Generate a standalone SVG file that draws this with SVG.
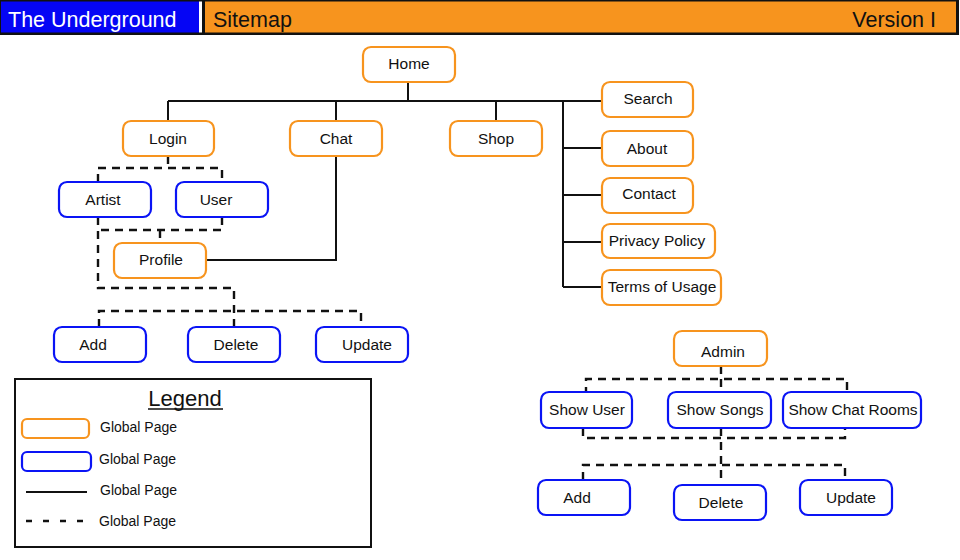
<svg xmlns="http://www.w3.org/2000/svg" width="960" height="560" viewBox="0 0 960 560">
<style>
text{font-family:"Liberation Sans",Arial,sans-serif;font-size:15.5px;fill:#111;text-anchor:middle}
.o{fill:#fff;stroke:#F7941E;stroke-width:2.2}
.b{fill:#fff;stroke:#0A14F5;stroke-width:2.2}
.s{fill:none;stroke:#111;stroke-width:2}
.d{fill:none;stroke:#111;stroke-width:2.4;stroke-dasharray:8 6}
.lg{font-size:14px;text-anchor:start}
</style>
<rect x="0" y="0" width="960" height="560" fill="#fff"/>
<g id="header">
<rect x="0" y="0" width="959" height="35" fill="#111"/>
<rect x="1" y="1.5" width="198" height="31" fill="#0505F5"/>
<rect x="199" y="1.5" width="3" height="31" fill="#fff"/>
<rect x="205" y="1.5" width="751" height="31" fill="#F7941E"/>
<text x="8" y="27" style="font-size:21.5px;text-anchor:start;fill:#fff">The Underground</text>
<text x="213" y="27" style="font-size:21.5px;text-anchor:start">Sitemap</text>
<text x="936" y="27" style="font-size:21.5px;text-anchor:end">Version I</text>
</g>
<g id="connectors">
<path class="s" d="M408 82V101M168 101H602M168 101V121M336 101V121M496 101V121M563 101V287M563 148H602M563 195H602M563 242H602M563 287H602"/>
<path class="s" d="M206 260H336V156"/>
<path class="d" d="M168 156V168M98 182V168H222V182"/>
<path class="d" d="M98 217V288H234V327M222 217V230H98M160 230V243"/>
<path class="d" d="M99 327V311H361V327"/>
<path class="d" d="M721 366V379M586 395V379H847V395M721 379V392"/>
<path class="d" d="M583 428V438H845V428M721 428V485M583 480V465H845V480"/>
</g>
<g id="home"><rect class="o" x="363" y="47" width="92" height="35" rx="8"/><text x="409" y="69">Home</text></g>
<g id="login"><rect class="o" x="123" y="121" width="91" height="35" rx="8"/><text x="168" y="144">Login</text></g>
<g id="chat"><rect class="o" x="290" y="121" width="92" height="35" rx="8"/><text x="336" y="144">Chat</text></g>
<g id="shop"><rect class="o" x="450" y="121" width="92" height="35" rx="8"/><text x="496" y="144">Shop</text></g>
<g id="search"><rect class="o" x="602" y="82" width="91" height="35" rx="8"/><text x="648" y="104">Search</text></g>
<g id="about"><rect class="o" x="602" y="131" width="91" height="35" rx="8"/><text x="647" y="154">About</text></g>
<g id="contact"><rect class="o" x="602" y="178" width="91" height="35" rx="8"/><text x="649" y="199">Contact</text></g>
<g id="privacy"><rect class="o" x="602" y="224" width="113" height="34" rx="8"/><text x="657" y="246">Privacy Policy</text></g>
<g id="terms"><rect class="o" x="602" y="270" width="119" height="35" rx="8"/><text x="662" y="292">Terms of Usage</text></g>
<g id="artist"><rect class="b" x="59" y="182" width="92" height="35" rx="8"/><text x="103" y="205">Artist</text></g>
<g id="user"><rect class="b" x="176" y="182" width="92" height="35" rx="8"/><text x="216" y="205">User</text></g>
<g id="profile"><rect class="o" x="114" y="243" width="92" height="35" rx="8"/><text x="161" y="265">Profile</text></g>
<g id="add1"><rect class="b" x="54" y="327" width="92" height="35" rx="8"/><text x="93" y="350">Add</text></g>
<g id="delete1"><rect class="b" x="188" y="327" width="92" height="35" rx="8"/><text x="236" y="350">Delete</text></g>
<g id="update1"><rect class="b" x="316" y="327" width="92" height="35" rx="8"/><text x="367" y="350">Update</text></g>
<g id="admin"><rect class="o" x="674" y="331" width="93" height="35" rx="8"/><text x="723" y="357">Admin</text></g>
<g id="showuser"><rect class="b" x="541" y="392" width="91" height="36" rx="8"/><text x="587" y="415">Show User</text></g>
<g id="showsongs"><rect class="b" x="668" y="392" width="103" height="36" rx="8"/><text x="720" y="415">Show Songs</text></g>
<g id="showchat"><rect class="b" x="783" y="392" width="138" height="36" rx="8"/><text x="853" y="415">Show Chat Rooms</text></g>
<g id="add2"><rect class="b" x="538" y="480" width="92" height="35" rx="8"/><text x="577" y="503">Add</text></g>
<g id="delete2"><rect class="b" x="674" y="485" width="92" height="35" rx="8"/><text x="721" y="508">Delete</text></g>
<g id="update2"><rect class="b" x="800" y="480" width="92" height="35" rx="8"/><text x="851" y="503">Update</text></g>
<g id="legend">
<rect x="15" y="379" width="356" height="168" fill="#fff" stroke="#111" stroke-width="2"/>
<text x="185" y="406" style="font-size:22px">Legend</text>
<line x1="148" y1="409" x2="223" y2="409" stroke="#111" stroke-width="1.5"/>
<rect class="o" x="22" y="419" width="67" height="19" rx="5"/>
<text class="lg" x="100" y="432">Global Page</text>
<rect class="b" x="22" y="452" width="69" height="19" rx="5"/>
<text class="lg" x="99" y="464">Global Page</text>
<line class="s" x1="26" y1="492" x2="87" y2="492"/>
<text class="lg" x="100" y="495">Global Page</text>
<line class="d" x1="26" y1="521" x2="87" y2="521" style="stroke-dasharray:6 11"/>
<text class="lg" x="99" y="526">Global Page</text>
</g>
</svg>
